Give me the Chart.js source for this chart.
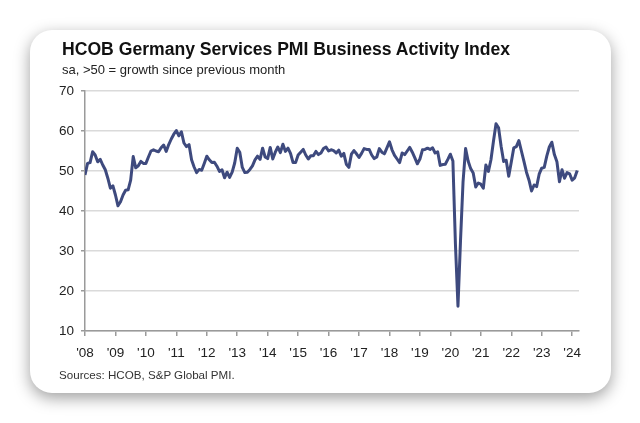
<!DOCTYPE html>
<html><head><meta charset="utf-8">
<script src="https://cdn.jsdelivr.net/npm/chart.js@4"></script>
<style>
html,body{margin:0;padding:0;background:#fff;width:640px;height:423px;overflow:hidden;font-family:"Liberation Sans",Arial,sans-serif;}
#card{position:absolute;left:30px;top:30px;width:581px;height:363px;background:#fff;border-radius:22px;box-shadow:0 5px 16px rgba(0,0,0,0.38);}
#title{position:absolute;left:62px;top:39px;font-weight:bold;font-size:17.6px;color:#111;white-space:nowrap;}
#sub{position:absolute;left:62px;top:62px;font-size:13px;color:#222;white-space:nowrap;}
#src{position:absolute;left:59px;top:368px;font-size:11.6px;color:#333;white-space:nowrap;}
#c{position:absolute;left:0;top:0;}
</style></head>
<body>
<div id="card"></div>
<canvas id="c" width="640" height="423"></canvas>
<div id="title">HCOB Germany Services PMI Business Activity Index</div>
<div id="sub">sa, &gt;50 = growth since previous month</div>
<div id="src">Sources: HCOB, S&amp;P Global PMI.</div>
<script>
const years = ['08','09','10','11','12','13','14','15','16','17','18','19','20','21','22','23','24'];
const v2008 = [49.0, 51.9, 52.1, 54.8, 54.0, 52.3, 52.9, 51.5, 50.3, 48.2, 45.7, 46.3];
const v2009 = [44.0, 41.3, 42.3, 44.0, 45.2, 45.3, 47.7, 53.6, 50.8, 51.3, 52.4, 51.9];
const v2010 = [51.9, 53.5, 55.0, 55.3, 55.0, 54.8, 55.8, 56.5, 54.9, 56.6, 58.0, 59.2];
const v2011 = [60.1, 58.8, 59.8, 57.0, 56.1, 56.6, 52.8, 51.0, 49.6, 50.4, 50.2, 51.9];
const v2012 = [53.7, 52.8, 52.1, 52.2, 51.2, 49.9, 50.3, 48.3, 49.7, 48.4, 49.7, 52.0];
const v2013 = [55.7, 54.7, 50.9, 49.6, 49.7, 50.4, 51.3, 52.8, 53.7, 52.9, 55.7, 53.5];
const v2014 = [53.1, 55.9, 53.0, 54.7, 56.0, 54.6, 56.7, 54.9, 55.7, 54.4, 52.1, 52.1];
const v2015 = [54.0, 54.7, 55.4, 54.0, 53.0, 53.8, 53.8, 54.9, 54.1, 54.5, 55.6, 56.0];
const v2016 = [55.0, 55.3, 55.1, 54.5, 55.2, 53.7, 54.4, 51.7, 50.9, 54.2, 55.1, 54.3];
const v2017 = [53.4, 54.4, 55.6, 55.4, 55.4, 54.0, 53.1, 53.5, 55.6, 54.7, 54.3, 55.8];
const v2018 = [57.3, 55.3, 53.9, 53.0, 52.1, 54.5, 54.1, 55.0, 55.9, 54.7, 53.3, 51.8];
const v2019 = [53.0, 55.3, 55.4, 55.7, 55.4, 55.8, 54.5, 54.8, 51.4, 51.6, 51.7, 52.9];
const v2020 = [54.2, 52.5, 31.7, 16.2, 32.6, 47.3, 55.6, 52.5, 50.6, 49.5, 46.0, 47.0];
const v2021 = [46.7, 45.7, 51.5, 49.9, 52.8, 57.5, 61.8, 60.8, 56.2, 52.4, 52.7, 48.7];
const v2022 = [52.2, 55.8, 56.1, 57.6, 55.0, 52.4, 49.7, 47.7, 45.0, 46.5, 46.1, 49.2];
const v2023 = [50.7, 50.9, 53.7, 56.0, 57.2, 54.1, 52.3, 47.3, 50.3, 48.2, 49.6, 49.3];
const v2024 = [47.7, 48.3, 50.1];

const series = [].concat(v2008,v2009,v2010,v2011,v2012,v2013,v2014,v2015,v2016,v2017,v2018,v2019,v2020,v2021,v2022,v2023,v2024);
const points = series.map((v,i)=>({x:i,y:v}));
const FONT = '"Liberation Sans", Arial, sans-serif';

new Chart(document.getElementById('c'), {
  type: 'line',
  data: { datasets: [{ data: points, borderColor: '#3e4a7e', borderWidth: 3, pointRadius: 0, tension: 0, fill: false, borderJoinStyle: 'round' }] },
  options: {
    responsive: false, animation: false,
    layout: { padding: { left: 0, top: 91, right: 61, bottom: 0 } },
    plugins: { legend: { display: false }, tooltip: { enabled: false } },
    scales: {
      x: {
        type: 'linear', min: 0, max: 194.7,
        afterBuildTicks: (s) => { s.ticks = years.map((y, i) => ({ value: i * 12 })); },
        ticks: { callback: (v) => "'" + years[Math.round(v / 12)], font: { family: FONT, size: 13.5 }, color: '#222', padding: 9, maxRotation: 0, autoSkip: false },
        grid: { drawOnChartArea: false, tickLength: 5, tickColor: '#9a9a9a', color: '#9a9a9a', lineWidth: 1.5 },
        border: { color: '#9a9a9a', width: 1.5 },
        afterFit: (s) => { s.height = 92; }
      },
      y: {
        min: 10, max: 70,
        ticks: { stepSize: 10, font: { family: FONT, size: 13.5 }, color: '#222', padding: 7 },
        grid: { color: '#dadada', lineWidth: 1.5, tickLength: 4, tickColor: '#9a9a9a' },
        border: { color: '#9a9a9a', width: 1.5 },
        afterFit: (s) => { s.width = 85; }
      }
    }
  }
});
</script>
</body></html>
